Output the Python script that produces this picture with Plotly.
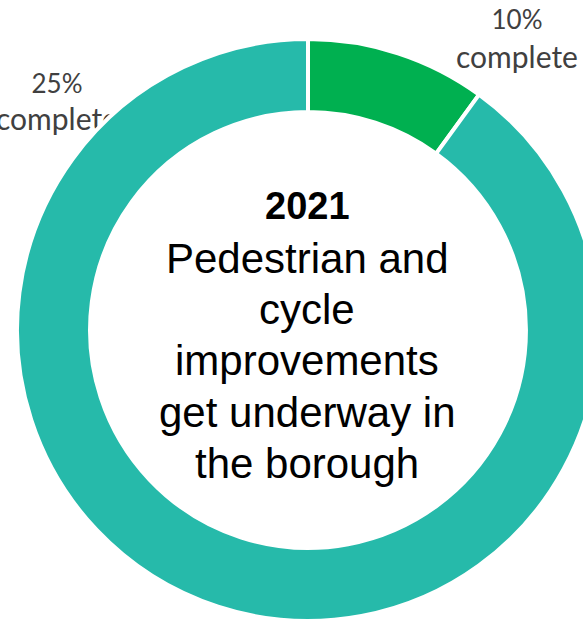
import plotly.graph_objects as go

# Progress ring: completed share vs remaining
slice_labels = ["Complete", "Remaining"]
slice_values = [10, 90]
slice_colors = ["#00B050", "#26BAAA"]

# Headline in the middle of the ring
headline_year = "2021"
headline_lines = ["Pedestrian and", "cycle", "improvements", "get underway in", "the borough"]

# Progress callouts around the ring
callout_right = ["10%", "complete"]
callout_left = ["25%", "complete"]

W, H = 610, 630            # canvas a little larger than the viewport; right/bottom run off-screen
CX, CY, R = 308, 330, 291  # ring centre and outer radius in pixels

fig = go.Figure()


def centre_y(baseline, size):
    """Vertical anchor for middle-aligned text whose baseline should sit at `baseline`."""
    return baseline - 0.35 * size


PCT_SIZE, WORD_SIZE = 26, 30
label_family = "Lato, Noto Sans, sans-serif"


def add_callout(x, lines, baselines):
    for txt, base, size in zip(lines, baselines, [PCT_SIZE, WORD_SIZE]):
        fig.add_trace(go.Scatter(
            x=[x], y=[centre_y(base, size)], text=[txt],
            mode="text", textposition="middle center",
            textfont=dict(family=label_family, size=size, color="#404040"),
            hoverinfo="skip", showlegend=False))


# Callouts go in first so the ring is painted over them
add_callout(517, callout_right, [32, 71])
add_callout(57, callout_left, [96, 133])

fig.add_trace(go.Pie(
    labels=slice_labels, values=slice_values,
    marker=dict(colors=slice_colors, line=dict(color="white", width=4)),
    hole=0.749, sort=False, direction="clockwise", rotation=0,
    textinfo="none", hoverinfo="label+percent", showlegend=False,
    domain=dict(x=[(CX - R) / W, (CX + R) / W],
                y=[(H - (CY + R)) / H, (H - (CY - R)) / H]),
))

centre_font = "Liberation Sans, Arial, sans-serif"
annotations = [dict(x=307, y=centre_y(219, 38), xref="x", yref="y",
                    text="<b>%s</b>" % headline_year, showarrow=False,
                    font=dict(family=centre_font, size=38, color="black"))]
for i, txt in enumerate(headline_lines):
    base = 273 + i * 51.25
    annotations.append(dict(x=307, y=centre_y(base, 42), xref="x", yref="y", text=txt,
                            showarrow=False, font=dict(family=centre_font, size=42, color="black")))

fig.update_layout(
    width=W, height=H, autosize=False,
    margin=dict(l=0, r=0, t=0, b=0),
    paper_bgcolor="white", plot_bgcolor="white",
    xaxis=dict(range=[0, W], visible=False, fixedrange=True, domain=[0, 1]),
    yaxis=dict(range=[H, 0], visible=False, fixedrange=True, domain=[0, 1]),
    annotations=annotations,
    showlegend=False,
)

fig.write_html("out.html", config={"displayModeBar": False},
               post_script="document.documentElement.style.overflow='hidden';"
                           "document.body.style.overflow='hidden';")
